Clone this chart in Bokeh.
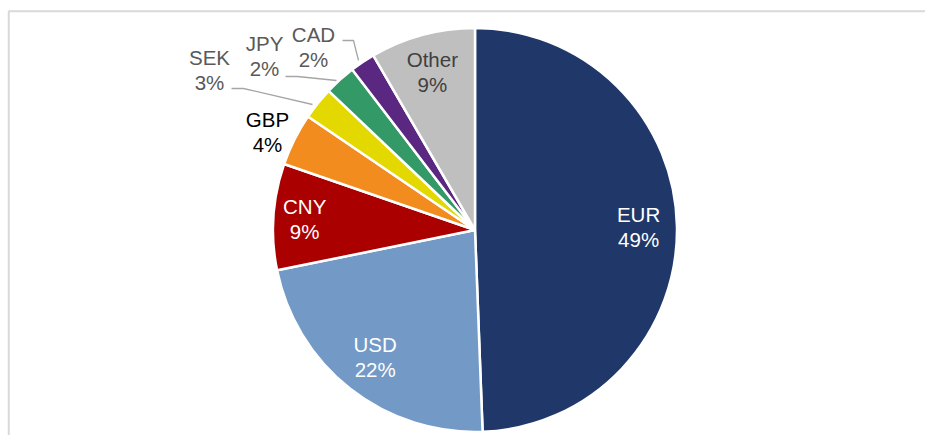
import math
from bokeh.plotting import figure
from bokeh.models import Range1d
from bokeh.core.properties import value
from bokeh.embed import file_html
from bokeh.resources import INLINE

# ---- data ----
currencies = ["EUR", "USD", "CNY", "GBP", "SEK", "JPY", "CAD", "Other"]
shares = [49.4, 22.4, 8.5, 4.2, 2.6, 2.5, 2.0, 8.4]
pct_labels = ["49%", "22%", "9%", "4%", "3%", "2%", "2%", "9%"]

# ---- styles / layout ----
colors = ["#1f3869", "#7399c6", "#ab0000", "#f28c1e", "#e3d800", "#339966", "#5a2781", "#bfbfbf"]
text_colors = ["white", "white", "white", "black", "#595959", "#595959", "#595959", "#404040"]
inside_factor = {"EUR": 0.81, "USD": 0.80, "CNY": 0.845, "Other": 0.81}
outside_pos = {"GBP": (267, 131.5), "SEK": (209, 69), "JPY": (264, 55), "CAD": (313, 46)}
leaders = {
    "SEK": [(231, 88), (243, 88), (312, 104)],
    "JPY": [(285, 76), (297, 76), (336, 80)],
    "CAD": [(342, 40), (353, 40), (358, 60)],
}

W, H = 925, 435
OX, OY = 0, H  # data x = px - OX, data y = OY - py (image pixel coords)


def to_data(px, py):
    return px - OX, OY - py


CX_PX, CY_PX, R = 474.5, 229.5, 202
cx, cy = to_data(CX_PX, CY_PX)

p = figure(width=W, height=H, output_backend="svg", toolbar_location=None,
           x_range=Range1d(0, W), y_range=Range1d(0, H), min_border=0,
           background_fill_color="white", border_fill_color="white")
p.axis.visible = False
p.grid.visible = False
p.outline_line_color = None

# frame line (top & left)
fx = [to_data(8.25, 0)[0]] * 2 + [W]
fy = [0, to_data(0, 10.75)[1], to_data(0, 10.75)[1]]
p.line(fx, fy, line_color="#d9d9d9", line_width=2)

total = sum(shares)
cum = 0.0
starts, ends, mids = [], [], []
for s in shares:
    a0 = cum / total
    cum += s
    a1 = cum / total
    starts.append(math.pi / 2 - a0 * 2 * math.pi)
    ends.append(math.pi / 2 - a1 * 2 * math.pi)
    mids.append((a0 + a1) / 2 * 2 * math.pi)  # clockwise from top

p.wedge(x=cx, y=cy, radius=R, start_angle=starts, end_angle=ends, direction="clock",
        fill_color=colors, line_color="white", line_width=2.5)

# leader lines
for name, pts in leaders.items():
    xs = [to_data(*q)[0] for q in pts]
    ys = [to_data(*q)[1] for q in pts]
    p.line(xs, ys, line_color="#a6a6a6", line_width=1.3)

# labels
for i, name in enumerate(currencies):
    if name in inside_factor:
        f = inside_factor[name] * R
        px = CX_PX + f * math.sin(mids[i])
        py = CY_PX - f * math.cos(mids[i])
    else:
        px, py = outside_pos[name]
    x, _ = to_data(px, py)
    # two lines, 25px apart, centred on the label point
    for txt, mid in ((name, py - 12.5), (pct_labels[i], py + 12.5)):
        p.text(x=[x], y=[to_data(0, mid)[1]], text=[txt], text_align="center",
               text_baseline="alphabetic", text_font=value("Liberation Sans"),
               text_font_size="20.5px", text_color=text_colors[i])

open("out.html", "w").write(file_html(p, INLINE))
